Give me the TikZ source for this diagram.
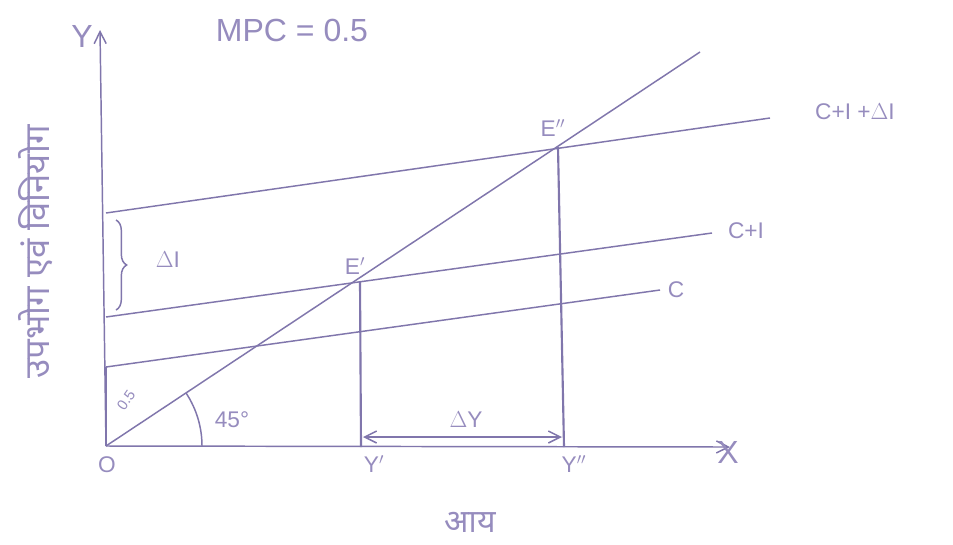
\documentclass[tikz,border=0pt]{standalone}
\usepackage{fontspec}
\setmainfont{Liberation Sans}
\newfontfamily\devfont[Script=Devanagari]{Noto Sans}
\usetikzlibrary{arrows.meta,decorations.pathreplacing}
\definecolor{pen}{RGB}{128,118,172}
\definecolor{ink}{RGB}{150,140,190}
\begin{document}
\begin{tikzpicture}[x=0.75pt,y=-0.75pt,
  curve/.style={draw=pen,line width=1.1pt},
  guide/.style={draw=pen,line width=1.6pt},
  lbl/.style={text=ink,font=\fontsize{17}{17}\selectfont,inner sep=1pt},
  biglbl/.style={text=ink,font=\fontsize{24}{24}\selectfont,inner sep=1pt},
  tip/.style={-{Straight Barb[length=9pt,width=9pt]}}]
\useasboundingbox (0,0) rectangle (953,544);
\fill[white] (0,0) rectangle (953,544);
% points
\coordinate (O) at (106,446);
\coordinate (yTop) at (100,30);
\coordinate (xEnd) at (730,447);
\coordinate (C0) at (106,367);
\coordinate (C1) at (660,290);
\coordinate (CI0) at (106,317);
\coordinate (CI1) at (712,233);
\coordinate (CD0) at (106,213);
\coordinate (CD1) at (770,118);
\coordinate (L45) at (700,52);
\coordinate (Ep) at (360,281);
\coordinate (Epp) at (558,147);
\coordinate (Yp) at (361,447);
\coordinate (Ypp) at (564,447);
\coordinate (dYa) at (363,437);
\coordinate (dYb) at (562,437);
% axes
\draw[curve,tip] (O) -- (yTop);
\draw[curve,tip] (O) -- (xEnd);
% lines
\draw[curve] (C0) -- (C1);
\draw[curve] (CI0) -- (CI1);
\draw[curve] (CD0) -- (CD1);
\draw[curve] (O) -- (L45);
% verticals
\draw[guide] (Ep) -- (Yp);
\draw[guide] (Epp) -- (Ypp);
\draw[guide] (O) -- (C0);
% delta Y
\draw[curve,{Straight Barb[length=9pt,width=9pt]}-{Straight Barb[length=9pt,width=9pt]}] (dYa) -- (dYb);
% 45 arc
\draw[curve] (202,446) arc[start angle=0,end angle=-33.4,radius=96];
% brace
\draw[curve,decorate,decoration={brace,amplitude=8pt}] (116,220) -- (116,310);
% labels
\node[biglbl] (mpc) at (292,30) {MPC = 0.5};
\node[biglbl] (ylab) at (82,36) {Y};
\node[biglbl] (xlab) at (728,452) {X};
\node[lbl] (lC) at (676,290) {C};
\node[lbl] (lCI) at (746,231) {C+I};
\node[lbl] (lCD) at (855,112) {C+I +$\Delta$I};
\node[lbl] (lEp) at (355,266) {E$'$};
\node[lbl] (lEpp) at (553,128) {E$''$};
\node[lbl] (lDI) at (168,260) {$\Delta$I};
\node[lbl] (lDY) at (466,420) {$\Delta$Y};
\node[lbl] (lO) at (107,465) {O};
\node[lbl] (lYp) at (374,464) {Y$'$};
\node[lbl] (lYpp) at (574,464) {Y$''$};
\node[lbl] (l45) at (232,420) {45°};
\node[text=ink,font=\fontsize{11}{11}\selectfont,inner sep=0pt,rotate=55] (l05) at (126,400) {0.5};
\node[text=ink,font=\devfont\fontsize{24}{24}\selectfont] (lx) at (470,522) {आय};
\node[text=ink,font=\devfont\fontsize{26}{26}\selectfont,rotate=90] (ly) at (36,252) {उपभोग एवं विनियोग};
\end{tikzpicture}
\end{document}
